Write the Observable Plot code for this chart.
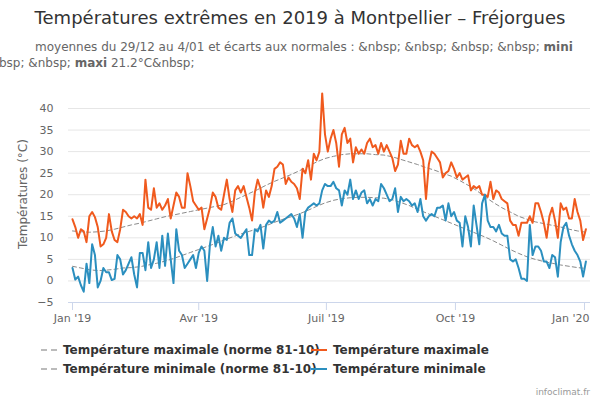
<!DOCTYPE html>
<html><head><meta charset="utf-8">
<script src="https://cdn.jsdelivr.net/npm/d3@7"></script>
<script src="https://cdn.jsdelivr.net/npm/@observablehq/plot@0.6"></script>
<style>
body{margin:0;background:#fff;font-family:"DejaVu Sans",sans-serif;}
#wrap{position:relative;width:600px;height:400px;overflow:hidden;background:#fff;}
.abs{position:absolute;white-space:nowrap;}
#title{left:0;width:600px;top:7px;text-align:center;font-size:18px;line-height:22px;color:#333;}
.sub{font-size:12px;line-height:14px;color:#666;}
#ytitle{left:23px;top:194px;font-size:12px;color:#666;transform:translate(-50%,-50%) rotate(-90deg);}
#chart{position:absolute;left:0;top:80px;}
.leg{font-size:12px;font-weight:bold;color:#333;line-height:14px;}
#credit{right:10px;top:386px;font-size:9px;color:#999;line-height:12px;}
</style></head><body>
<div id="wrap">
  <div id="title" class="abs">Températures extrêmes en 2019 à Montpellier – Fréjorgues</div>
  <div class="abs sub" style="left:35px;top:40px;">moyennes du 29/12 au 4/01 et écarts aux normales : &amp;nbsp; &amp;nbsp; &amp;nbsp; &amp;nbsp; <b>mini</b></div>
  <div class="abs sub" style="left:-1px;top:56px;">bsp; &amp;nbsp; <b>maxi</b> 21.2°C&amp;nbsp;</div>
  <div id="ytitle" class="abs">Températures (°C)</div>
  <div id="chart"></div>
  <div id="legend"></div>
  <div id="credit" class="abs">infoclimat.fr</div>
</div>
<script>
// Daily-sampled series (every 2 days from 1 Jan 2019)
const seriesStart = "2019-01-01";
const seriesStepDays = 2;
const tMax = [
14.3, 12.5, 10, 12, 11.5, 9, 15, 16, 14.8, 12.5,
8, 8.5, 10, 15.5, 11.5, 9.5, 9, 12, 16.5, 16,
15, 14.5, 15, 14.5, 15.5, 13, 23.5, 17, 16.5, 21.5,
17, 18, 16.5, 17.5, 19, 14.5, 17.5, 20.5, 19.5, 17,
17, 25, 22, 18.5, 17.5, 16.5, 17, 12, 14.5, 17,
20.5, 19.5, 17, 16.5, 20, 23.5, 19, 16, 21, 22,
20.5, 22, 19.5, 17, 14, 20.5, 23.5, 21.5, 17, 21,
19.5, 22, 26, 26.5, 27.5, 27, 22.5, 24, 23, 22.5,
21.5, 19, 26, 25, 28, 23.5, 29.5, 28, 30, 43.5,
34, 30, 33, 35, 32, 26.5, 34, 35.5, 32, 33,
27.5, 31, 29.5, 30.5, 29.5, 32, 33, 31, 31.5, 29.5,
32, 30, 31.5, 30, 28.5, 25.5, 27, 32.5, 29.5, 29.5,
33, 31.5, 31, 31.5, 30, 28, 19, 27, 30, 29.5,
28.5, 27.5, 24, 25, 25.5, 27.5, 26, 24, 25, 23.5,
24, 24.5, 21, 22, 21.5, 22, 20, 20, 19.5, 23,
19, 21, 20.5, 19, 18.5, 18, 14, 13, 13, 10.5,
13.5, 13.5, 13.5, 15, 13.5, 18, 18, 16, 13.5, 10,
15, 17, 14, 10, 18, 16.5, 17, 14.5, 14.5, 19,
16, 14, 9.5, 12
];
const tMin = [
3, 0.3, 1, -1, -2.5, 4, -0.5, 8.5, 6, -1.5,
0, 3, 2, 2, 0.2, 0.5, 6, 5, 1.5, 2.5,
4, 5.5, 1.5, -1.5, 6.5, 6.5, 2.5, 9, 3, 5,
9, 3, 10.5, 3.5, 11, 5, -0.5, 12, 7, 6,
3, 4, 5, 6, 3, 6.5, 8, 7, 0, 8.5,
12.5, 8, 10.5, 7, 10, 9.5, 13.5, 14.5, 11, 10.5,
10, 11, 12, 6, 6, 12, 11.5, 13, 7.5, 13,
14, 13.5, 14, 16, 13.5, 14, 14.5, 15, 15.5, 14.5,
12.5, 15.5, 10, 16, 17, 17.5, 18, 17.5, 18, 21,
22.5, 22, 22, 23, 21.5, 21, 17.5, 21, 20, 23.5,
19, 21, 19, 20.5, 21, 18, 19, 17.5, 19, 18.5,
22.5, 21.5, 20, 18.5, 19, 21.5, 16, 19.5, 18.5, 19,
18.5, 17.5, 18, 16, 19, 15, 14, 15, 15.5, 15,
17, 17, 17.5, 14, 18, 15, 16, 14, 13.5, 8,
15, 12.5, 8, 17.5, 13, 8.5, 18, 20, 14, 12.5,
12.5, 11.5, 13, 11, 10.5, 10.5, 5, 4.5, 5, 3,
0.5, 0.5, 0, 13, 6, 8, 8, 7, 4.5, 4.5,
3, 6, 5.5, 1, 9, 12.5, 13.5, 10.5, 8.5, 7,
6, 4.5, 1, 4.5
];
// Normals 1981-2010 (sampled every 6 days from 1 Jan 2019)
const normStart = "2019-01-01";
const normStepDays = 6;
const normMax = [
11.6, 11.4, 11.3, 11.4, 11.6, 12, 12.5, 13, 13.4, 13.9,
14.4, 14.9, 15.3, 15.7, 16.1, 16.5, 16.9, 17.3, 17.7, 18.5,
19.4, 20.3, 21.2, 22.2, 23.1, 23.9, 24.7, 25.6, 26.6, 27.6,
28.4, 28.9, 29.3, 29.5, 29.5, 29.5, 29.3, 29.2, 28.8, 28.2,
27.6, 27, 26.3, 25.7, 25, 24.3, 23.3, 22.2, 21, 19.5,
18.2, 17, 16, 15, 14.3, 13.7, 13.3, 12.9, 12.5, 12,
11.6, 11.3
];
const normMin = [
3.4, 3, 2.6, 2.4, 2.5, 2.7, 3, 3.1, 3.3, 3.7,
4.1, 4.6, 5.2, 5.9, 6.6, 7.3, 8, 8.7, 9.5, 10.2,
10.9, 11.5, 12.1, 12.8, 13.6, 14.3, 14.9, 15.6, 16.4, 17.3,
18.1, 18.7, 19.1, 19.3, 19.4, 19.4, 19.3, 19.2, 18.8, 18.2,
17.5, 16.6, 15.8, 15, 14.2, 13.4, 12.6, 11.8, 11, 10.2,
9.3, 8.3, 7.3, 6.4, 5.6, 5, 4.5, 4.1, 3.7, 3.4,
3.1, 2.9
];
const xTickDates = ["2019-01-01", "2019-04-01", "2019-07-01", "2019-10-01", "2020-01-01"];
const xTickLabels = ["Jan '19", "Avr '19", "Juil '19", "Oct '19", "Jan '20"];
const yTicks = [-5, 0, 5, 10, 15, 20, 25, 30, 35, 40];
const seriesNames = ["Température maximale (norme 81-10)", "Température maximale", "Température minimale (norme 81-10)", "Température minimale"];
const seriesColors = ["#8a8a8a", "#f05a1e", "#8a8a8a", "#2b8fbf"];

const toRows = (vals, start, step) => vals.map((v, i) => ({date: d3.utcDay.offset(new Date(start), i * step), v}));
const rowsMax = toRows(tMax, seriesStart, seriesStepDays);
const rowsMin = toRows(tMin, seriesStart, seriesStepDays);
const rowsNMax = toRows(normMax, normStart, normStepDays);
const rowsNMin = toRows(normMin, normStart, normStepDays);
const tickDates = xTickDates.map(d => new Date(d));
const lastTick = tickDates.length - 1;

const chart = Plot.plot({
  width: 600, height: 245,
  marginLeft: 68, marginRight: 10, marginTop: 28, marginBottom: 23,
  style: {fontFamily: "DejaVu Sans", background: "transparent", overflow: "visible"},
  x: {type: "utc", domain: [new Date("2019-01-01"), new Date("2020-01-01")], range: [72, 584]},
  y: {domain: [-5, 40], range: [222, 28]},
  marks: [
    Plot.ruleY(yTicks.filter(v => v > -5), {stroke: "#e6e6e6", strokeWidth: 1}),
    Plot.ruleY([-5], {stroke: "#ccd6eb", strokeWidth: 1}),
    Plot.axisY({ticks: yTicks, tickSize: 0, tickPadding: 15, fontSize: 11, fill: "#666", label: null}),
    Plot.axisX({ticks: tickDates, tickFormat: () => "", tickSize: 8, stroke: "#ccd6eb", label: null}),
    Plot.axisX({ticks: tickDates.slice(0, lastTick), tickFormat: (d, i) => xTickLabels[i], tickSize: 0, tickPadding: 12, fill: "#666", fontSize: 11, label: null}),
    Plot.axisX({ticks: tickDates.slice(lastTick), tickFormat: () => xTickLabels[lastTick], tickSize: 0, tickPadding: 12, fill: "#666", fontSize: 11, textAnchor: "end", dx: 5, label: null}),
    Plot.line(rowsNMax, {x: "date", y: "v", stroke: seriesColors[0], strokeWidth: 1, strokeDasharray: "4,3"}),
    Plot.line(rowsMax, {x: "date", y: "v", stroke: seriesColors[1], strokeWidth: 2}),
    Plot.line(rowsNMin, {x: "date", y: "v", stroke: seriesColors[2], strokeWidth: 1, strokeDasharray: "4,3"}),
    Plot.line(rowsMin, {x: "date", y: "v", stroke: seriesColors[3], strokeWidth: 2})
  ]
});
document.getElementById("chart").appendChild(chart);

// legend
const legendPos = [[41, 350], [311, 350], [41, 369], [311, 369]];
const leg = document.getElementById("legend");
seriesNames.forEach((name, i) => {
  const [lx, ly] = legendPos[i];
  const dashed = i % 2 === 0;
  const sym = document.createElementNS("http://www.w3.org/2000/svg", "svg");
  sym.setAttribute("width", 16); sym.setAttribute("height", 4);
  sym.style.position = "absolute"; sym.style.left = lx + "px"; sym.style.top = (ly - 2) + "px";
  const ln = document.createElementNS("http://www.w3.org/2000/svg", "line");
  ln.setAttribute("x1", 0); ln.setAttribute("x2", 16); ln.setAttribute("y1", 2); ln.setAttribute("y2", 2);
  ln.setAttribute("stroke", dashed ? "#bbbbbb" : seriesColors[i]);
  ln.setAttribute("stroke-width", 2);
  if (dashed) ln.setAttribute("stroke-dasharray", "6,4");
  sym.appendChild(ln);
  leg.appendChild(sym);
  const t = document.createElement("div");
  t.className = "abs leg";
  t.style.left = (lx + 22) + "px"; t.style.top = (ly - 7) + "px";
  t.textContent = name;
  leg.appendChild(t);
});
</script>
</body></html>
